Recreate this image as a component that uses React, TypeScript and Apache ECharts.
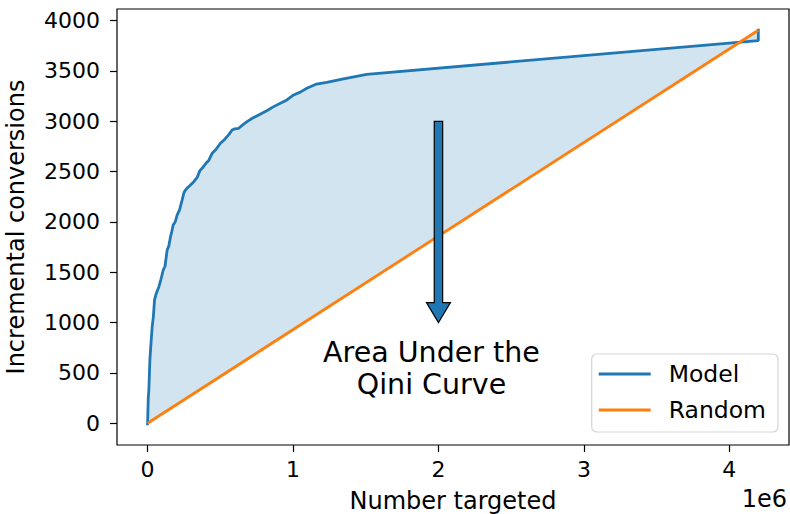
import React, { useEffect, useRef } from "react";
import * as echarts from "echarts";

const modelX = [0, 2000, 5000, 9000, 16000, 24000, 32000, 40000, 48000, 60000, 78000, 92000, 108000, 120000, 135000, 146000, 158000, 166000, 176000, 190000, 204000, 220000, 238000, 250000, 261000, 275000, 290000, 318000, 340000, 360000, 375000, 400000, 420000, 444000, 470000, 501000, 530000, 560000, 581000, 600000, 627000, 650000, 684000, 720000, 764000, 820000, 867000, 920000, 958000, 1004000, 1050000, 1095000, 1162000, 1232000, 1347000, 1507000, 4199000, 4199000];
const modelY = [-20, 100, 250, 331, 629, 800, 960, 1060, 1225, 1290, 1357, 1430, 1523, 1560, 1722, 1760, 1854, 1900, 1970, 2000, 2070, 2120, 2219, 2290, 2318, 2340, 2360, 2400, 2440, 2510, 2533, 2580, 2610, 2682, 2720, 2782, 2820, 2870, 2914, 2925, 2931, 2960, 2997, 3030, 3063, 3105, 3146, 3185, 3212, 3262, 3290, 3328, 3370, 3388, 3421, 3467, 3801, 3920];
const randomX = [0, 4199000];
const randomY = [0, 3905];
const xTicks = [0, 1000000, 2000000, 3000000, 4000000];
const yTicks = [0, 500, 1000, 1500, 2000, 2500, 3000, 3500, 4000];
const arrowX = 2000000;
const arrowFromY = 3000;
const arrowToY = 1000;
const annotationLines = ["Area Under the", "Qini Curve"];

const FONT = "DejaVu Sans";

export default function App() {
  const ref = useRef<HTMLDivElement>(null);
  useEffect(() => {
    if (!ref.current) return;
    const chart = echarts.init(ref.current, null, { renderer: "svg", width: 790, height: 514 });
    const modelData = modelX.map((x, i) => [x, modelY[i]]);
    const randomData = randomX.map((x, i) => [x, randomY[i]]);
    const fillPts = [...modelData, ...randomData.slice().reverse()];
    chart.setOption({
      animation: false,
      backgroundColor: "#fff",
      textStyle: { fontFamily: FONT },
      grid: { left: 117, top: 9, width: 672, height: 436, show: true, borderColor: "#000", borderWidth: 1.2, backgroundColor: "transparent", outerBoundsMode: "none", containLabel: false },
      xAxis: {
        type: "value",
        min: -210000,
        max: 4410000,
        name: "Number targeted",
        nameLocation: "middle",
        nameGap: 42,
        nameTextStyle: { fontSize: 24, color: "#000", fontFamily: FONT, lineHeight: 28 },
        axisLine: { show: false, onZero: false },
        splitLine: { show: false },
        axisTick: { show: true, length: 7, lineStyle: { color: "#000", width: 1.2 }, customValues: xTicks },
        axisLabel: { color: "#000", fontSize: 22, fontFamily: FONT, margin: 13, customValues: xTicks, formatter: (v: number) => String(v / 1000000) },
      },
      yAxis: {
        type: "value",
        min: -216,
        max: 4116,
        name: "Incremental conversions",
        nameLocation: "middle",
        nameGap: 89,
        nameTextStyle: { fontSize: 24, color: "#000", fontFamily: FONT },
        axisLine: { show: false, onZero: false },
        splitLine: { show: false },
        axisTick: { show: true, length: 7, lineStyle: { color: "#000", width: 1.2 }, customValues: yTicks },
        axisLabel: { color: "#000", fontSize: 22, fontFamily: FONT, margin: 17, customValues: yTicks, formatter: (v: number) => String(v) },
      },
      legend: {
        orient: "vertical",
        right: 12,
        top: 354,
        padding: [8, 12, 10, 7],
        backgroundColor: "#fff",
        borderColor: "#d5d5d5",
        borderWidth: 1.2,
        borderRadius: 5,
        itemWidth: 52,
        itemHeight: 3,
        itemGap: 12,
        icon: "rect",
        textStyle: { fontSize: 23.5, color: "#000", fontFamily: FONT, lineHeight: 24, padding: [0, 0, 0, 13] },
        data: ["Model", "Random"],
      },
      series: [
        {
          type: "custom",
          name: "fill",
          silent: true,
          z: 1,
          data: [[0, 0]],
          renderItem: (_p: any, api: any) => ({
            type: "polygon",
            shape: { points: fillPts.map((p) => api.coord(p)) },
            style: { fill: "rgba(31,119,180,0.2)", stroke: "none" },
          }),
        },
        {
          type: "line",
          name: "Model",
          data: modelData,
          showSymbol: false,
          symbol: "none",
          z: 3,
          lineStyle: { color: "#1f77b4", width: 2.8 },
          itemStyle: { color: "#1f77b4" },
        },
        {
          type: "line",
          name: "Random",
          data: randomData,
          showSymbol: false,
          symbol: "none",
          z: 4,
          lineStyle: { color: "#ff7f0e", width: 2.8 },
          itemStyle: { color: "#ff7f0e" },
        },
        {
          type: "custom",
          name: "arrow",
          silent: true,
          z: 5,
          data: [[arrowX, arrowFromY]],
          renderItem: (_p: any, api: any) => {
            const top = api.coord([arrowX, arrowFromY]);
            const tip = api.coord([arrowX, arrowToY]);
            const cx = top[0];
            const sw = 4.2, hw = 12, hl = 20;
            const hb = tip[1] - hl;
            return {
              type: "group",
              children: [
                {
                  type: "polygon",
                  shape: {
                    points: [
                      [cx - sw, top[1]], [cx + sw, top[1]], [cx + sw, hb], [cx + hw, hb],
                      [cx, tip[1]], [cx - hw, hb], [cx - sw, hb],
                    ],
                  },
                  style: { fill: "#1f77b4", stroke: "#000", lineWidth: 1.2 },
                },
                {
                  type: "text",
                  x: cx - 7,
                  y: tip[1] + 14,
                  style: {
                    text: annotationLines.join("\n"),
                    fontSize: 28.5,
                    fontFamily: FONT,
                    fill: "#000",
                    align: "center",
                    verticalAlign: "top",
                    lineHeight: 31.6,
                  },
                },
              ],
            };
          },
        },
      ],
      graphic: [
        {
          type: "text",
          right: 3,
          top: 487,
          style: { text: "1e6", fontSize: 24, fontFamily: FONT, fill: "#000" },
        },
      ],
    });
    return () => chart.dispose();
  }, []);
  return <div ref={ref} style={{ width: 790, height: 514, position: "absolute", left: 0, top: 0 }} />;
}
